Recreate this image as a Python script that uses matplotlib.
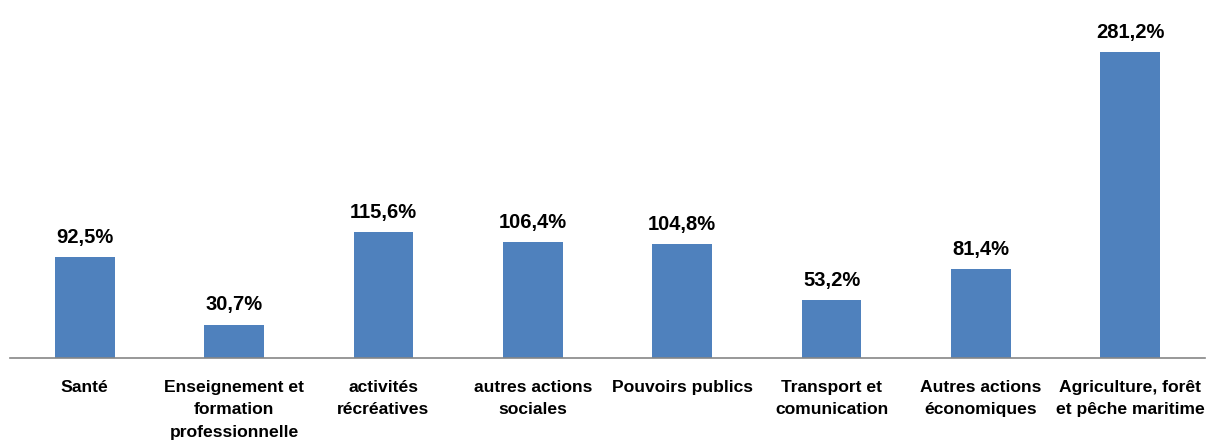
import numpy as np
import matplotlib.pyplot as plt

# categories and values (percent)
categories = [
    "Santé",
    "Enseignement et\nformation\nprofessionnelle",
    "activités\nrécréatives",
    "autres actions\nsociales",
    "Pouvoirs publics",
    "Transport et\ncomunication",
    "Autres actions\néconomiques",
    "Agriculture, forêt\net pêche maritime",
]
values = [92.5, 30.7, 115.6, 106.4, 104.8, 53.2, 81.4, 281.2]

plt.rcParams["font.family"] = ["Liberation Sans", "DejaVu Sans"]

fig = plt.figure(figsize=(12.09, 4.41), dpi=100)
ax = fig.add_axes([10 / 1209, 83 / 441, 1195 / 1209, 326.4 / 441])

x = np.arange(len(categories))
bars = ax.bar(x, values, width=0.4, color="#4F81BD")

# value labels above the bars
for rect, v in zip(bars, values):
    label = f"{v:.1f}%".replace(".", ",")
    ax.annotate(label, (rect.get_x() + rect.get_width() / 2, rect.get_height()),
                xytext=(0, 7.5), textcoords="offset points",
                ha="center", va="bottom", fontsize=14.5, fontweight="bold",
                clip_on=False)

ax.set_xticks(x)
ax.set_xticklabels(categories, fontsize=12.6, fontweight="bold", linespacing=1.65)
ax.tick_params(axis="x", length=0, pad=15.5)

ax.set_xlim(-0.5, 7.5)
ax.set_ylim(0, 300)
ax.set_yticks([])

for side in ["top", "right", "left"]:
    ax.spines[side].set_visible(False)
ax.spines["bottom"].set_color("#868686")
ax.spines["bottom"].set_linewidth(1.2)

fig.savefig("out.png", dpi=100)
